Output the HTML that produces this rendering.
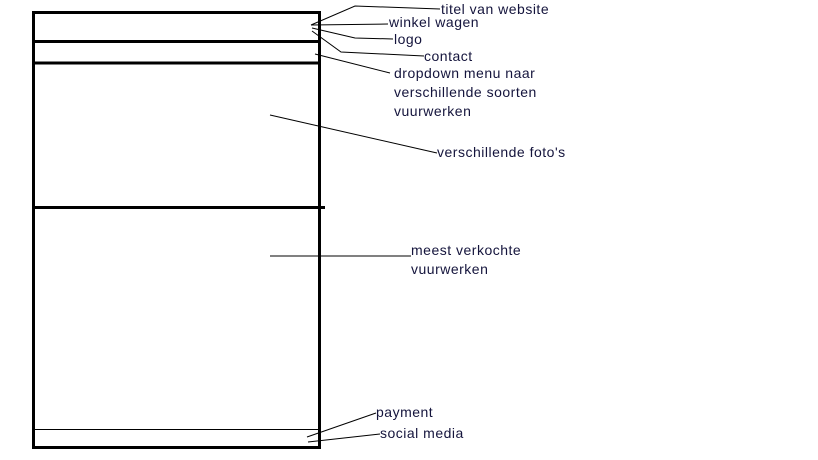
<!DOCTYPE html>
<html><head><style>
body{margin:0;background:#fff;width:818px;height:460px;overflow:hidden;position:relative}
.t{position:absolute;font-family:"Liberation Sans",sans-serif;font-size:14px;letter-spacing:0.5px;color:#14143c;line-height:19px;white-space:nowrap}
svg{position:absolute;left:0;top:0}
</style></head><body>
<svg width="818" height="460">
<g fill="none" stroke="#000">
<rect x="33.5" y="12.5" width="286" height="435" stroke-width="3"/>
<line x1="33" y1="41.5" x2="320" y2="41.5" stroke-width="3"/>
<line x1="33" y1="63" x2="320" y2="63" stroke-width="3"/>
<line x1="33" y1="207.5" x2="325" y2="207.5" stroke-width="3"/>
<line x1="33" y1="429.5" x2="320" y2="429.5" stroke-width="1"/>
<g stroke-width="1">
<polyline points="311,25 355,6 440,9"/>
<polyline points="311,25 388,24"/>
<polyline points="312,28 355,38 393,39"/>
<polyline points="312,31 341,52 424,56"/>
<polyline points="315,54 390,73"/>
<polyline points="270,115 437,153"/>
<polyline points="270,256 411,256"/>
<polyline points="307,437 376,413"/>
<polyline points="308,442 380,434"/>
</g></g></svg>
<div class="t" style="left:441px;top:0px">titel van website</div>
<div class="t" style="left:389px;top:13px">winkel wagen</div>
<div class="t" style="left:394px;top:30px">logo</div>
<div class="t" style="left:424px;top:47px">contact</div>
<div class="t" style="left:394px;top:64px">dropdown menu naar<br>verschillende soorten<br>vuurwerken</div>
<div class="t" style="left:437px;top:143px">verschillende foto's</div>
<div class="t" style="left:411px;top:241px">meest verkochte<br>vuurwerken</div>
<div class="t" style="left:376px;top:403px">payment</div>
<div class="t" style="left:380px;top:424px">social media</div>
</body></html>
